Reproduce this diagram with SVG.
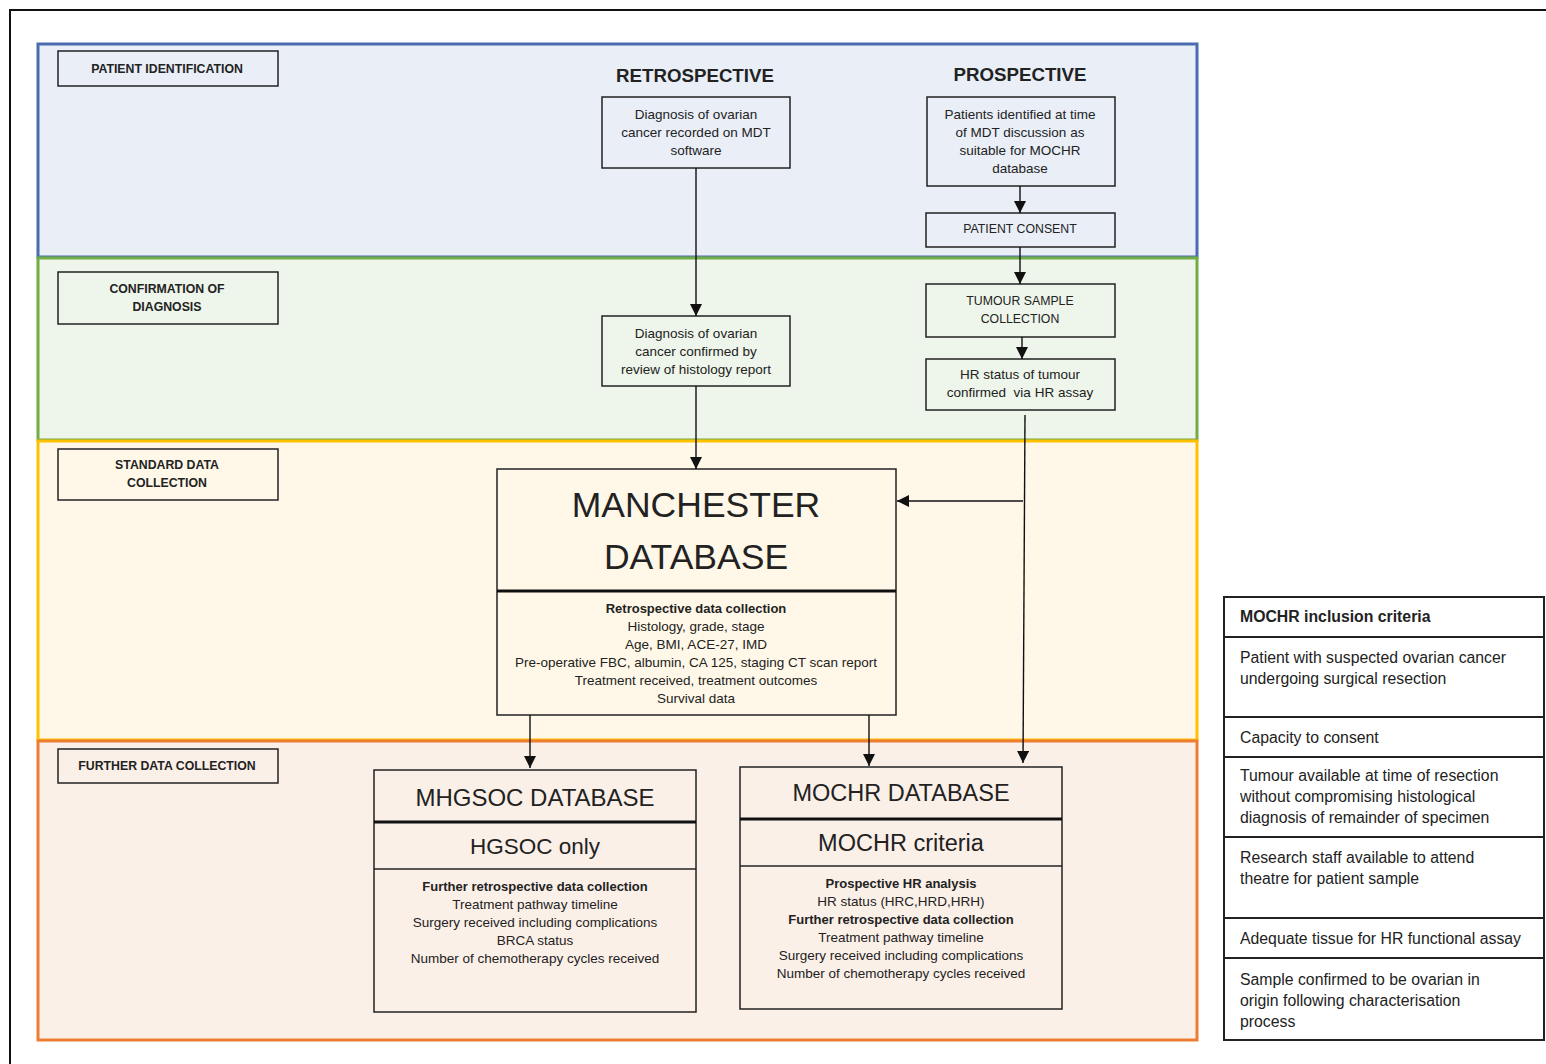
<svg xmlns="http://www.w3.org/2000/svg" width="1546" height="1064" viewBox="0 0 1546 1064">
  <style>
    text { font-family: "Liberation Sans", Arial, sans-serif; fill: #222; text-anchor: middle; dominant-baseline: central; }
    .band { stroke-width: 3; }
    .lbl rect, .box rect { fill: none; stroke: #222; stroke-width: 1.5; }
    .lbl text { font-weight: bold; font-size: 12.3px; }
    .head { font-weight: bold; font-size: 18.7px; }
    .t { font-size: 13.5px; }
    .caps { font-size: 12.3px; }
    .b { font-weight: bold; font-size: 13px; }
    .div { stroke: #111; stroke-width: 3; }
    .thin { stroke: #222; stroke-width: 1.5; }
    .crit text { text-anchor: start; font-size: 15.8px; }
    .conn line { stroke: #111; stroke-width: 1.4; fill: none; marker-end: url(#arrow); }
  </style>
  <defs>
    <marker id="arrow" markerUnits="userSpaceOnUse" markerWidth="12" markerHeight="12" viewBox="0 0 12 12" refX="12" refY="6" orient="auto">
      <path d="M0,0 L12,6 L0,12 Z" fill="#111"/>
    </marker>
  </defs>

  <rect width="1546" height="1064" fill="#fff"/>
  <!-- outer frame -->
  <path d="M10,1064 V10 H1546" fill="none" stroke="#111" stroke-width="2"/>

  <!-- stage bands -->
  <g id="bands">
    <rect class="band" x="38" y="44" width="1159" height="213" fill="#E9EEF7" stroke="#4A6CB0"/>
    <rect class="band" x="38" y="258" width="1159" height="182" fill="#EEF5EA" stroke="#70AD47"/>
    <rect class="band" x="38" y="441" width="1159" height="299" fill="#FFF8E8" stroke="#FFC000"/>
    <rect class="band" x="38" y="741" width="1159" height="299" fill="#FBF0E8" stroke="#ED7D31"/>
  </g>

  <!-- stage labels -->
  <g id="label-identification" class="lbl">
    <rect x="58" y="51" width="220" height="35"/>
    <text x="167" y="68.5">PATIENT IDENTIFICATION</text>
  </g>
  <g id="label-confirmation" class="lbl">
    <rect x="58" y="272" width="220" height="52"/>
    <text x="167" y="289">CONFIRMATION OF</text>
    <text x="167" y="307">DIAGNOSIS</text>
  </g>
  <g id="label-standard" class="lbl">
    <rect x="58" y="449" width="220" height="51"/>
    <text x="167" y="465">STANDARD DATA</text>
    <text x="167" y="483">COLLECTION</text>
  </g>
  <g id="label-further" class="lbl">
    <rect x="58" y="749" width="220" height="34"/>
    <text x="167" y="766">FURTHER DATA COLLECTION</text>
  </g>

  <!-- column headings -->
  <g id="heading-retrospective"><text class="head" x="695" y="75">RETROSPECTIVE</text></g>
  <g id="heading-prospective"><text class="head" x="1020" y="74">PROSPECTIVE</text></g>

  <!-- retrospective path -->
  <g id="mdt-diagnosis" class="box">
    <rect x="602" y="97" width="188" height="71"/>
    <text class="t" x="696" y="114">Diagnosis of ovarian</text>
    <text class="t" x="696" y="132">cancer recorded on MDT</text>
    <text class="t" x="696" y="150">software</text>
  </g>
  <g id="histology-confirmed" class="box">
    <rect x="602" y="316" width="188" height="70"/>
    <text class="t" x="696" y="333">Diagnosis of ovarian</text>
    <text class="t" x="696" y="351">cancer confirmed by</text>
    <text class="t" x="696" y="369">review of histology report</text>
  </g>

  <!-- prospective path -->
  <g id="mdt-identified" class="box">
    <rect x="927" y="97" width="188" height="89"/>
    <text class="t" x="1020" y="114">Patients identified at time</text>
    <text class="t" x="1020" y="132">of MDT discussion as</text>
    <text class="t" x="1020" y="150">suitable for MOCHR</text>
    <text class="t" x="1020" y="168">database</text>
  </g>
  <g id="patient-consent" class="box">
    <rect x="926" y="213" width="189" height="34"/>
    <text class="caps" x="1020" y="229">PATIENT CONSENT</text>
  </g>
  <g id="tumour-sample" class="box">
    <rect x="926" y="284" width="189" height="53"/>
    <text class="caps" x="1020" y="301">TUMOUR SAMPLE</text>
    <text class="caps" x="1020" y="319">COLLECTION</text>
  </g>
  <g id="hr-status" class="box">
    <rect x="926" y="359" width="189" height="51"/>
    <text class="t" x="1020" y="374">HR status of tumour</text>
    <text class="t" x="1020" y="392" style="white-space:pre">confirmed  via HR assay</text>
  </g>

  <!-- Manchester database -->
  <g id="manchester-db" class="box">
    <rect x="497" y="469" width="399" height="246"/>
    <text x="696" y="505" font-size="35.5">MANCHESTER</text>
    <text x="696" y="557" font-size="35.5">DATABASE</text>
    <line class="div" x1="497" y1="591" x2="896" y2="591"/>
    <text class="b" x="696" y="608">Retrospective data collection</text>
    <text class="t" x="696" y="626">Histology, grade, stage</text>
    <text class="t" x="696" y="644">Age, BMI, ACE-27, IMD</text>
    <text class="t" x="696" y="662">Pre-operative FBC, albumin, CA 125, staging CT scan report</text>
    <text class="t" x="696" y="680">Treatment received, treatment outcomes</text>
    <text class="t" x="696" y="698">Survival data</text>
  </g>

  <!-- MHGSOC database -->
  <g id="mhgsoc-db" class="box">
    <rect x="374" y="770" width="322" height="242"/>
    <text x="535" y="797" font-size="24">MHGSOC DATABASE</text>
    <line class="div" x1="374" y1="822" x2="696" y2="822"/>
    <text x="535" y="846" font-size="22.5">HGSOC only</text>
    <line class="thin" x1="374" y1="869" x2="696" y2="869"/>
    <text class="b" x="535" y="886">Further retrospective data collection</text>
    <text class="t" x="535" y="904">Treatment pathway timeline</text>
    <text class="t" x="535" y="922">Surgery received including complications</text>
    <text class="t" x="535" y="940">BRCA status</text>
    <text class="t" x="535" y="958">Number of chemotherapy cycles received</text>
  </g>

  <!-- MOCHR database -->
  <g id="mochr-db" class="box">
    <rect x="740" y="767" width="322" height="242"/>
    <text x="901" y="793" font-size="23.5">MOCHR DATABASE</text>
    <line class="div" x1="740" y1="819" x2="1062" y2="819"/>
    <text x="901" y="843" font-size="23.5">MOCHR criteria</text>
    <line class="thin" x1="740" y1="866" x2="1062" y2="866"/>
    <text class="b" x="901" y="883">Prospective HR analysis</text>
    <text class="t" x="901" y="901">HR status (HRC,HRD,HRH)</text>
    <text class="b" x="901" y="919">Further retrospective data collection</text>
    <text class="t" x="901" y="937">Treatment pathway timeline</text>
    <text class="t" x="901" y="955">Surgery received including complications</text>
    <text class="t" x="901" y="973">Number of chemotherapy cycles received</text>
  </g>

  <!-- inclusion criteria table -->
  <g id="inclusion-criteria" class="crit">
    <rect x="1224" y="597" width="320" height="443" fill="#fff" stroke="#222" stroke-width="2"/>
    <g stroke="#222" stroke-width="2">
      <line x1="1224" y1="637" x2="1544" y2="637"/>
      <line x1="1224" y1="717" x2="1544" y2="717"/>
      <line x1="1224" y1="757" x2="1544" y2="757"/>
      <line x1="1224" y1="837" x2="1544" y2="837"/>
      <line x1="1224" y1="918" x2="1544" y2="918"/>
      <line x1="1224" y1="958" x2="1544" y2="958"/>
    </g>
    <text x="1240" y="616" font-weight="bold" font-size="15">MOCHR inclusion criteria</text>
    <text x="1240" y="657">Patient with suspected ovarian cancer</text>
    <text x="1240" y="678">undergoing surgical resection</text>
    <text x="1240" y="737">Capacity to consent</text>
    <text x="1240" y="775">Tumour available at time of resection</text>
    <text x="1240" y="796">without compromising histological</text>
    <text x="1240" y="817">diagnosis of remainder of specimen</text>
    <text x="1240" y="857">Research staff available to attend</text>
    <text x="1240" y="878">theatre for patient sample</text>
    <text x="1240" y="938">Adequate tissue for HR functional assay</text>
    <text x="1240" y="979">Sample confirmed to be ovarian in</text>
    <text x="1240" y="1000">origin following characterisation</text>
    <text x="1240" y="1021">process</text>
  </g>

  <!-- connectors -->
  <g id="connectors" class="conn">
    <line x1="696" y1="168" x2="696" y2="316"/>
    <line x1="696" y1="386" x2="696" y2="469"/>
    <line x1="1020" y1="186" x2="1020" y2="213"/>
    <line x1="1020" y1="247" x2="1020" y2="284"/>
    <line x1="1022" y1="337" x2="1022" y2="359"/>
    <line x1="1025" y1="415" x2="1023" y2="763"/>
    <line x1="1023" y1="501" x2="897" y2="501"/>
    <line x1="530" y1="715" x2="530" y2="768"/>
    <line x1="869" y1="715" x2="869" y2="766"/>
  </g>
</svg>
